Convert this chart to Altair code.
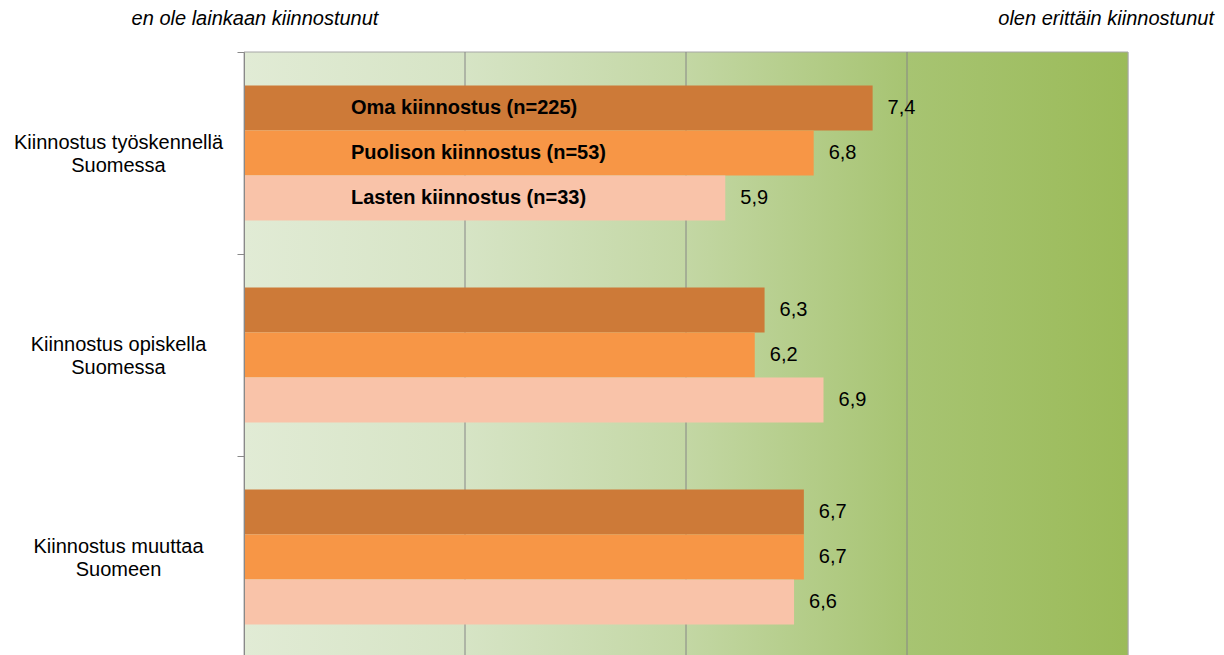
import altair as alt
import pandas as pd

# ---- data ----
categories = [
    "Kiinnostus työskennellä Suomessa",
    "Kiinnostus opiskella Suomessa",
    "Kiinnostus muuttaa Suomeen",
]
series = ["Oma kiinnostus (n=225)", "Puolison kiinnostus (n=53)", "Lasten kiinnostus (n=33)"]
oma = [7.4, 6.3, 6.7]
puoliso = [6.8, 6.2, 6.7]
lapset = [5.9, 6.9, 6.6]
series_colors = ["#cd7a38", "#f79646", "#f9c3a9"]
scale_min, scale_max = 1, 10
grid_values = [3.25, 5.5, 7.75]
header_left = "en ole lainkaan kiinnostunut"
header_right = "olen erittäin kiinnostunut"

rows = []
for s, vals in zip(series, [oma, puoliso, lapset]):
    for c, v in zip(categories, vals):
        rows.append({"category": c, "series": s, "value": v})
df = pd.DataFrame(rows)
df_legend = pd.DataFrame({"category": [categories[0]] * len(series), "series": series})
df_grid = pd.DataFrame({"g": grid_values})

W, H = 884, 606
FONT = "Liberation Sans"

xscale = alt.Scale(domain=[scale_min, scale_max], nice=False, zero=False)
yaxis = alt.Axis(
    title=None,
    domain=True, domainColor="#898989", domainWidth=1,
    ticks=True, tickBand="extent", tickSize=7, tickColor="#898989", tickWidth=1,
    labelAlign="center", labelBaseline="middle", labelPadding=119, labelOffset=-11,
    labelFontSize=20, labelColor="#000000", labelFont=FONT, labelLimit=0,
    labelLineHeight=23,
    labelExpr="[slice(datum.label, 0, lastindexof(datum.label, ' ')), slice(datum.label, lastindexof(datum.label, ' ') + 1)]",
    grid=False, zindex=1,
)
y = alt.Y("category:N", sort=categories, scale=alt.Scale(domain=categories, paddingInner=0, paddingOuter=0), axis=yaxis)
yoff = alt.YOffset("series:N", sort=series, scale=alt.Scale(domain=series, paddingInner=0, paddingOuter=0.744))

gradient = alt.LinearGradient(
    gradient="linear",
    stops=[
        alt.GradientStop(color="#e1ebd5", offset=0),
        alt.GradientStop(color="#d6e4c5", offset=0.25),
        alt.GradientStop(color="#c3d7a4", offset=0.5),
        alt.GradientStop(color="#a7c472", offset=0.75),
        alt.GradientStop(color="#9bbb59", offset=1),
    ],
    x1=0, x2=1, y1=0, y2=0,
)

bg = alt.Chart(pd.DataFrame({"a": [0]})).mark_rect(
    color=gradient, stroke="#a6a6a6", strokeWidth=1
).encode(
    x=alt.datum(scale_min, scale=xscale, axis=None),
    x2=alt.datum(scale_max),
)

grid = alt.Chart(df_grid).mark_rule(color="#868686", strokeWidth=1).encode(
    x=alt.X("g:Q", scale=xscale, axis=None)
)

bars = alt.Chart(df).mark_bar().encode(
    x=alt.X("value:Q", scale=xscale, axis=None),
    x2=alt.datum(scale_min),
    y=y,
    yOffset=yoff,
    color=alt.Color("series:N", scale=alt.Scale(domain=series, range=series_colors), legend=None),
)

values = alt.Chart(df).transform_calculate(
    label="replace(format(datum.value, '.1f'), '.', ',')"
).mark_text(align="left", baseline="middle", dx=15, fontSize=20, font=FONT, color="#000000").encode(
    x=alt.X("value:Q", scale=xscale, axis=None),
    y=y,
    yOffset=yoff,
    text="label:N",
)

legend_text = alt.Chart(df_legend).mark_text(
    align="left", baseline="middle", dx=107, fontSize=20, font=FONT, fontWeight="bold", color="#000000"
).encode(
    x=alt.datum(scale_min, scale=xscale, axis=None),
    y=y,
    yOffset=yoff,
    text="series:N",
)

head_l = alt.Chart(pd.DataFrame({"t": [header_left]})).mark_text(
    align="center", baseline="alphabetic", dx=11, fontSize=20, font=FONT, fontStyle="italic", color="#000000"
).encode(x=alt.datum(scale_min, scale=xscale, axis=None), y=alt.value(-27), text="t:N")

head_r = alt.Chart(pd.DataFrame({"t": [header_right]})).mark_text(
    align="right", baseline="alphabetic", dx=86, fontSize=20, font=FONT, fontStyle="italic", color="#000000"
).encode(x=alt.datum(scale_max, scale=xscale, axis=None), y=alt.value(-27), text="t:N")

chart = alt.layer(bg, grid, bars, values, legend_text, head_l, head_r).properties(
    width=W,
    height=H,
    autosize=alt.AutoSizeParams(type="none"),
    padding={"left": 236, "top": 44, "right": 88, "bottom": 0},
).configure_view(strokeWidth=0).configure(font=FONT)

chart.save("out.html", embed_options={"renderer": "svg", "actions": False})
